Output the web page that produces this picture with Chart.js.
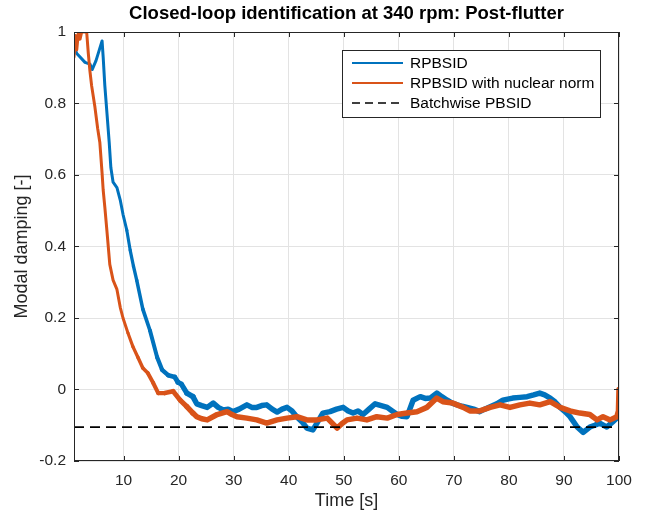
<!DOCTYPE html>
<html>
<head>
<meta charset="utf-8">
<script src="https://cdn.jsdelivr.net/npm/chart.js@4.4.1/dist/chart.umd.min.js"></script>
<style>
  html, body { margin: 0; padding: 0; background: #fff; }
</style>
</head>
<body>
<canvas id="c" width="646" height="512"></canvas>
<script>
// ── Data ──────────────────────────────────────────────────────
const xTicks = [10, 20, 30, 40, 50, 60, 70, 80, 90, 100];
const yTicks = [-0.2, 0, 0.2, 0.4, 0.6, 0.8, 1];

const seriesNames = ['RPBSID', 'RPBSID with nuclear norm', 'Batchwise PBSID'];

const tBlue = [
  1, 1.5, 2.1, 3, 3.9, 4.3, 5, 5.6, 6.1, 6.3,
  6.6, 7.0, 7.4, 7.7, 8.1, 8.8, 9.4, 9.9, 10.6, 11.2,
  11.8, 12.4, 13.5, 14.8, 16.1, 17, 18.1, 19.3, 19.9, 20.5,
  21.5, 22.6, 23.3, 24.2, 25.2, 26.3, 27.2, 28.1, 29, 29.9,
  31, 32.4, 33.3, 34.2, 35.1, 36, 37, 37.9, 38.8, 39.7,
  40.6, 41.5, 42.4, 43.3, 44.4, 45.3, 46.2, 47.5, 48.7, 49.9,
  50.8, 51.7, 52.6, 53.5, 54.6, 55.7, 56.8, 57.9, 58.8, 59.7,
  60.6, 61.5, 62.6, 63.9, 64.8, 65.7, 66.9, 67.8, 68.8, 69.7,
  70.6, 71.5, 72.4, 73.6, 74.7, 75.6, 76.6, 77.8, 78.9, 79.8,
  80.7, 82, 83.3, 84.5, 85.6, 86.5, 87.5, 88.4, 89.3, 90.2,
  91.1, 92.4, 93.5, 94.7, 95.6, 96.5, 97.8, 98.9, 99.6, 100
];
const vBlue = [
  0.96, 0.94, 0.93, 0.915, 0.91, 0.895, 0.92, 0.95, 0.975, 0.93,
  0.85, 0.77, 0.69, 0.62, 0.58, 0.565, 0.53, 0.49, 0.445, 0.39,
  0.345, 0.305, 0.225, 0.165, 0.09, 0.055, 0.04, 0.035, 0.02, 0.015,
  -0.01, -0.02, -0.04, -0.045, -0.05, -0.038, -0.05, -0.057, -0.055, -0.062,
  -0.055, -0.043, -0.05, -0.05, -0.045, -0.043, -0.055, -0.063, -0.055, -0.05,
  -0.06, -0.077, -0.09, -0.108, -0.113, -0.09, -0.066, -0.062, -0.055, -0.05,
  -0.06, -0.066, -0.06, -0.07, -0.055, -0.04, -0.045, -0.05, -0.06, -0.07,
  -0.075, -0.076, -0.03, -0.02, -0.025, -0.024, -0.01, -0.02, -0.03, -0.038,
  -0.043, -0.047, -0.05, -0.055, -0.062, -0.055, -0.048, -0.04, -0.03, -0.027,
  -0.024, -0.022, -0.02, -0.015, -0.01, -0.015, -0.024, -0.035, -0.05, -0.062,
  -0.076, -0.105, -0.12, -0.105, -0.1, -0.094, -0.105, -0.09, -0.08, -0.075
];

const tOrange = [
  1, 1.3, 1.5, 1.8, 2.1, 2.4, 2.6, 3.3, 3.6, 3.9,
  4.2, 4.8, 5.3, 5.7, 6.1, 6.3, 6.6, 7.0, 7.5, 8.1,
  8.8, 9.4, 9.9, 10.8, 11.7, 12.6, 13.5, 14.4, 15.4, 16.3,
  17.5, 19, 20.3, 21.5, 22.6, 23.3, 24.2, 25.2, 27, 28.8,
  29.7, 30.6, 32.4, 34.2, 36, 37.9, 39.7, 41.5, 43.3, 45.1,
  47, 48.8, 49.7, 50.6, 52.4, 54.2, 56, 57.9, 59.7, 61.5,
  63.3, 65.1, 66.9, 68, 69.8, 71.7, 72.9, 74.7, 76.6, 78.4,
  80.2, 82, 83.8, 85.6, 87.5, 89.3, 91.1, 92.9, 94.7, 96,
  97.1, 98.4, 99.6, 99.9, 100
];
const vOrange = [
  0.93, 0.99, 0.95, 1.0, 0.98, 1.0, 1.0, 1.0, 0.94, 0.89,
  0.85, 0.79, 0.73, 0.69, 0.605, 0.558, 0.51, 0.44, 0.35, 0.306,
  0.28, 0.23, 0.20, 0.158, 0.12, 0.09, 0.06, 0.046, 0.018, -0.01,
  -0.01, -0.005, -0.03, -0.048, -0.066, -0.076, -0.082, -0.085, -0.07, -0.062,
  -0.07, -0.076, -0.08, -0.085, -0.094, -0.085, -0.08, -0.076, -0.085, -0.085,
  -0.08, -0.108, -0.095, -0.085, -0.08, -0.085, -0.076, -0.08, -0.07, -0.066,
  -0.062, -0.05, -0.024, -0.034, -0.038, -0.05, -0.06, -0.06, -0.05, -0.043,
  -0.05, -0.043, -0.038, -0.043, -0.034, -0.05, -0.06, -0.066, -0.07, -0.085,
  -0.076, -0.085, -0.076, -0.06, 0.0
];

const tBatch = [1, 100];
const vBatch = [-0.105, -0.105];

// ── Style ────────────────────────────────────────────────────
const COLORS = { blue: '#0072BD', orange: '#D95319', black: '#000000' };
const AXIS_COLOR = '#262626';
const FONT = "'Liberation Sans', Arial, Helvetica, sans-serif";

const toPts = (ts, vs) => ts.map((t, i) => ({ x: t, y: vs[i] }));
// the traces are noisy: thin while falling, a wider band once they settle
const bandWidth = ctx => {
  const k = Math.min(1, Math.max(0, (ctx.p0.parsed.x - 10) / 12));
  return 3 + 2.5 * k;
};

// MATLAB-like frame, inward ticks, titles and in-plot legend
const matlabDecor = {
  id: 'matlabDecor',
  afterDatasetsDraw(chart) {
    const { ctx, chartArea: a, scales } = chart;
    const L = a.left, R = a.right, T = a.top, B = a.bottom;
    ctx.save();
    ctx.strokeStyle = AXIS_COLOR;
    ctx.lineWidth = 1;
    ctx.strokeRect(L + 0.5, T + 0.5, R - L - 1, B - T - 1);

    // inward tick marks
    ctx.beginPath();
    xTicks.forEach(v => {
      const px = Math.round(scales.x.getPixelForValue(v)) + 0.5;
      ctx.moveTo(px, B); ctx.lineTo(px, B - 5);
      ctx.moveTo(px, T); ctx.lineTo(px, T + 5);
    });
    yTicks.forEach(v => {
      const py = Math.round(scales.y.getPixelForValue(v)) + 0.5;
      ctx.moveTo(L, py); ctx.lineTo(L + 5, py);
      ctx.moveTo(R, py); ctx.lineTo(R - 5, py);
    });
    ctx.stroke();

    // title + axis labels
    ctx.fillStyle = '#000';
    ctx.textAlign = 'center';
    ctx.textBaseline = 'middle';
    ctx.font = `bold 18.5px ${FONT}`;
    ctx.fillText('Closed-loop identification at 340 rpm: Post-flutter', (L + R) / 2, 14);
    ctx.fillStyle = AXIS_COLOR;
    ctx.font = `18px ${FONT}`;
    ctx.fillText('Time [s]', (L + R) / 2, 501);
    ctx.save();
    ctx.translate(22, (T + B) / 2);
    ctx.rotate(-Math.PI / 2);
    ctx.fillText('Modal damping [-]', 0, 0);
    ctx.restore();

    // legend box
    const bx = 342, by = 50, bw = 258, bh = 67;
    ctx.fillStyle = '#fff';
    ctx.fillRect(bx, by, bw, bh);
    ctx.strokeStyle = AXIS_COLOR;
    ctx.strokeRect(bx + 0.5, by + 0.5, bw, bh);
    const rows = [
      { c: COLORS.blue, dash: [] },
      { c: COLORS.orange, dash: [] },
      { c: COLORS.black, dash: [8, 5] },
    ];
    ctx.font = `15.5px ${FONT}`;
    ctx.textAlign = 'left';
    rows.forEach((r, i) => {
      const y = by + 13 + i * 20;
      ctx.beginPath();
      ctx.setLineDash(r.dash);
      ctx.strokeStyle = r.c;
      ctx.lineWidth = i === 2 ? 1.5 : 2;
      ctx.moveTo(352, y); ctx.lineTo(403, y);
      ctx.stroke();
      ctx.setLineDash([]);
      ctx.fillStyle = '#000';
      ctx.fillText(seriesNames[i], 410, y + 1);
    });
    ctx.restore();
  }
};

new Chart(document.getElementById('c'), {
  type: 'line',
  data: {
    datasets: [
      {
        label: seriesNames[0], data: toPts(tBlue, vBlue),
        borderColor: COLORS.blue, borderWidth: 3, pointRadius: 0,
        borderCapStyle: 'round', borderJoinStyle: 'round',
        segment: { borderWidth: bandWidth },
        tension: 0, order: 2,
      },
      {
        label: seriesNames[1], data: toPts(tOrange, vOrange),
        borderColor: COLORS.orange, borderWidth: 3, pointRadius: 0,
        borderCapStyle: 'round', borderJoinStyle: 'round',
        segment: { borderWidth: bandWidth },
        tension: 0, order: 1,
      },
      {
        label: seriesNames[2], data: toPts(tBatch, vBatch),
        borderColor: COLORS.black, borderWidth: 1.8, borderDash: [10, 6],
        pointRadius: 0, order: 0,
      },
    ],
  },
  options: {
    responsive: false,
    animation: false,
    devicePixelRatio: 1,
    layout: { padding: { top: 32, right: 27, left: 0, bottom: 0 } },
    plugins: { legend: { display: false }, tooltip: { enabled: false }, title: { display: false } },
    scales: {
      x: {
        type: 'linear', min: 1, max: 100,
        afterBuildTicks: s => { s.ticks = xTicks.map(v => ({ value: v })); },
        afterFit: s => { s.height = 51; },
        grid: { color: '#e3e3e3', tickLength: 0, drawTicks: false },
        border: { display: false },
        ticks: { padding: 10, color: AXIS_COLOR, font: { family: FONT, size: 15.5 }, maxRotation: 0, autoSkip: false },
      },
      y: {
        type: 'linear', min: -0.2, max: 1,
        afterBuildTicks: s => { s.ticks = yTicks.map(v => ({ value: v })); },
        afterFit: s => { s.width = 74; },
        grid: { color: '#e3e3e3', tickLength: 0, drawTicks: false },
        border: { display: false },
        ticks: {
          padding: 8, color: AXIS_COLOR, font: { family: FONT, size: 15.5 }, autoSkip: false,
          callback: v => String(Math.round(v * 10) / 10),
        },
      },
    },
  },
  plugins: [matlabDecor],
});
</script>
</body>
</html>
